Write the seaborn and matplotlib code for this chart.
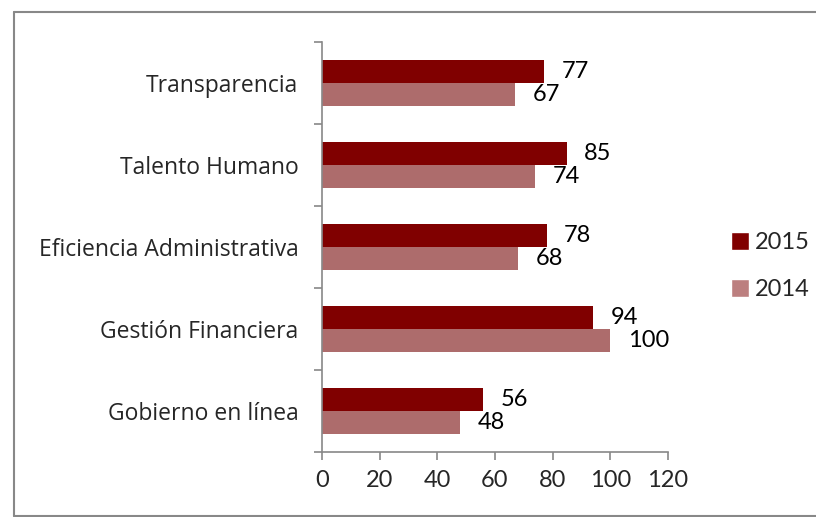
import pandas as pd
import seaborn as sns
import matplotlib.pyplot as plt
from matplotlib.patches import Patch
from matplotlib.lines import Line2D

categories = ['Transparencia', 'Talento Humano', 'Eficiencia Administrativa',
              'Gestión Financiera', 'Gobierno en línea']
years = ['2015', '2014']
values_2015 = [77, 85, 78, 94, 56]
values_2014 = [67, 74, 68, 100, 48]
x_ticks = [0, 20, 40, 60, 80, 100, 120]

colors = {'2015': '#800000', '2014': '#AD6C6C'}

df = pd.DataFrame({
    'Category': categories * 2,
    'Year': ['2015'] * len(categories) + ['2014'] * len(categories),
    'Value': values_2015 + values_2014,
})

sns.set_style('white')
plt.rcParams['font.family'] = ['Open Sans', 'DejaVu Sans']

fig = plt.figure(figsize=(8.16, 5.17), dpi=100)
ax = fig.add_axes([0.3946, 0.1257, 0.4240, 0.7931])

sns.barplot(data=df, y='Category', x='Value', hue='Year', order=categories,
            hue_order=years, palette=colors, orient='h', width=0.57,
            saturation=1, linewidth=0, ax=ax, legend=False)

# value labels next to each bar
for bars in ax.containers:
    for bar in bars:
        w = bar.get_width()
        y = bar.get_y() + bar.get_height() / 2
        ax.text(w + 6, y, f'{w:.0f}', va='center', ha='left', fontsize=17,
                family='Lato', color='black')

ax.set_xlim(0, 120)
ax.set_ylim(4.5, -0.5)
ax.set_xticks(x_ticks)
ax.set_xticklabels([str(t) for t in x_ticks], fontsize=17, family='Lato')
ax.set_yticks(range(len(categories)))
ax.set_yticklabels(categories, fontsize=16.5)
ax.set_yticks([i - 0.5 for i in range(len(categories) + 1)], minor=True)
ax.tick_params(axis='y', which='major', left=False, length=0, pad=17)
ax.tick_params(axis='y', which='minor', left=True, length=6, color='#888888',
               width=1.2, direction='out')
ax.tick_params(axis='x', bottom=True, length=6, color='#888888', width=1.2,
               direction='out', pad=7)
ax.set_xlabel('')
ax.set_ylabel('')
for side in ['top', 'right']:
    ax.spines[side].set_visible(False)
for side in ['left', 'bottom']:
    ax.spines[side].set_color('#888888')
    ax.spines[side].set_linewidth(1.2)

handles = [Patch(facecolor=colors['2015'], label='2015'),
           Patch(facecolor='#BC7F7F', label='2014')]
fig.legend(handles=handles, loc='center left', bbox_to_anchor=(0.87, 0.485),
           frameon=False, handlelength=0.75, handleheight=0.75,
           labelspacing=1.1, handletextpad=0.25, prop={'family': 'Lato', 'size': 17})

# chart border
border = dict(color='#888888', linewidth=1.5, transform=fig.transFigure)
fig.lines.append(Line2D([0.0172, 0.0172], [0.002, 0.977], **border))
fig.lines.append(Line2D([0.0172, 1.0], [0.977, 0.977], **border))
fig.lines.append(Line2D([0.0172, 1.0], [0.002, 0.002], **border))

fig.savefig('out.png', dpi=100)
